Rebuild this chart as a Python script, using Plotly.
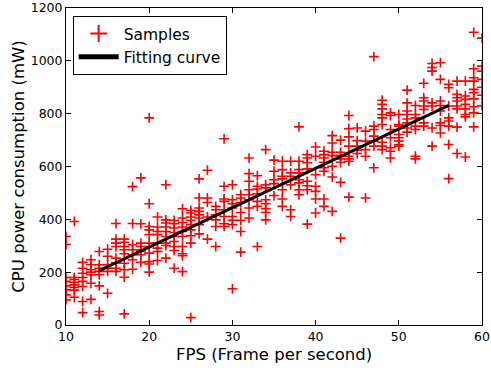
import plotly.graph_objects as go

# FPS columns and the power samples (mW) read at each FPS value
column_fps = list(range(10, 61))
column_power = [
    [335, 305, 180, 165, 148, 133, 114, 95],          # 10
    [392, 180, 172, 162, 152, 142, 132, 105],         # 11
    [237, 215, 196, 180, 165, 146, 89, 47],           # 12
    [247, 228, 209, 200, 190, 158, 97],               # 13
    [278, 228, 215, 203, 190, 148, 51, 38],           # 14
    [287, 260, 228, 215, 203, 120],                   # 15
    [384, 325, 310, 297, 253, 235, 215, 203],         # 16
    [325, 313, 297, 285, 270, 234, 209, 181, 42],     # 17
    [524, 384, 304, 285, 266, 247, 211],              # 18
    [557, 383, 310, 297, 285, 278, 266, 237],         # 19
    [784, 459, 373, 360, 342, 310, 297, 272, 240, 231, 200],  # 20
    [409, 371, 354, 342, 310, 291, 278, 244],         # 21
    [531, 398, 386, 371, 354, 335, 310, 301, 253],    # 22
    [396, 383, 367, 350, 335, 316, 297, 282, 215],    # 23
    [440, 405, 388, 371, 354, 335, 297, 270, 262, 202],  # 24
    [434, 424, 409, 396, 380, 360, 338, 310, 28],     # 25
    [553, 481, 443, 430, 417, 405, 380, 345],         # 26
    [586, 481, 464, 409, 325],                        # 27
    [449, 436, 417, 398, 373, 297],                   # 28
    [705, 525, 477, 468, 436, 411, 383, 373],         # 29
    [531, 474, 459, 443, 411, 396, 380, 137],         # 30
    [493, 481, 464, 426, 396, 354, 276],              # 31
    [632, 573, 544, 512, 493, 474, 443, 405],         # 32
    [565, 525, 515, 497, 468, 449, 297],              # 33
    [664, 531, 519, 474, 459, 440, 426, 398],         # 34
    [624, 582, 550, 535, 490],                        # 35
    [620, 588, 563, 553, 512, 477, 449],              # 36
    [620, 576, 563, 531, 436, 411],                   # 37
    [750, 620, 588, 576, 550, 538, 512, 493],         # 38
    [645, 632, 614, 591, 544, 527, 512, 382],         # 39
    [674, 639, 569, 525, 506, 477, 424],              # 40
    [658, 645, 632, 616, 595, 582, 477, 449],         # 41
    [717, 689, 654, 641, 601, 560, 430],              # 42
    [700, 654, 641, 629, 616, 540, 329],              # 43
    [793, 743, 712, 677, 639, 629, 620, 484],         # 44
    [746, 698, 677, 662, 649],                        # 45
    [734, 696, 664, 639, 481],                        # 46
    [1016, 753, 740, 715, 696, 677, 595],             # 47
    [851, 835, 818, 797, 784, 759, 692, 677, 664],    # 48
    [803, 793, 740, 709, 671, 658, 632],              # 49
    [797, 759, 753, 721, 709, 696, 683, 677],         # 50
    [889, 841, 810, 797, 780, 765, 746, 730],         # 51
    [831, 797, 784, 753, 740, 639, 629],              # 52
    [915, 860, 848, 829, 816, 765, 753],              # 53
    [990, 975, 961, 841, 829, 746, 677],              # 54
    [993, 930, 848, 831, 810, 765, 755, 727],         # 55
    [911, 898, 829, 784, 772, 753, 683, 554],         # 56
    [923, 873, 860, 848, 829, 818, 749, 649],         # 57
    [923, 867, 854, 835, 818, 797, 788, 636],         # 58
    [1108, 970, 936, 923, 892, 879, 856, 826, 803, 750],  # 59
    [1086, 980, 961, 930, 900, 870, 830],             # 60
]

# Fitting curve (linear)
fit_range = [14, 56]
fit_slope = 14.88
fit_intercept = -2.3

x_ticks = [10, 20, 30, 40, 50, 60]
y_ticks = [0, 200, 400, 600, 800, 1000, 1200]
x_title = "FPS (Frame per second)"
y_title = "CPU power consumption (mW)"

sample_fps = []
sample_power = []
for f, vals in zip(column_fps, column_power):
    for v in vals:
        sample_fps.append(f)
        sample_power.append(v)

fit_x = fit_range
fit_y = [fit_slope * x + fit_intercept for x in fit_x]

FONT = "DejaVu Sans"

fig = go.Figure()
fig.add_trace(go.Scatter(
    x=sample_fps, y=sample_power, mode="markers", name="Samples",
    marker=dict(symbol="cross-thin", size=7, color="red",
                line=dict(color="red", width=1.6)),
))
fig.add_trace(go.Scatter(
    x=fit_x, y=fit_y, mode="lines", name="Fitting curve",
    line=dict(color="black", width=3),
))

axis_common = dict(
    showline=True, linecolor="black", linewidth=1, mirror="ticks",
    ticks="inside", ticklen=5, tickcolor="black", tickwidth=1,
    showgrid=False, zeroline=False, automargin=False,
    tickfont=dict(family=FONT, size=12.5, color="black"),
)

fig.update_layout(
    width=491, height=368,
    margin=dict(l=66, r=9, t=8, b=43),
    paper_bgcolor="white", plot_bgcolor="white",
    font=dict(family=FONT, color="black"),
    xaxis=dict(range=[10, 60], tickvals=x_ticks, **axis_common),
    yaxis=dict(range=[0, 1200], tickvals=y_ticks, **axis_common),
    legend=dict(x=0.016, y=0.975, xanchor="left", yanchor="top",
                bgcolor="white", bordercolor="black", borderwidth=1,
                font=dict(family=FONT, size=15.5),
                itemwidth=40, itemsizing="constant", tracegroupgap=0),
    showlegend=True,
    annotations=[
        dict(text=x_title, xref="paper", yref="paper", x=0.5, y=-0.094,
             xanchor="center", yanchor="middle", showarrow=False,
             font=dict(family=FONT, size=16.5, color="black")),
        dict(text=y_title, xref="paper", yref="paper", x=-0.115, y=0.5,
             xanchor="center", yanchor="middle", showarrow=False,
             textangle=-90,
             font=dict(family=FONT, size=16.5, color="black")),
    ],
)

fig.write_html("out.html", config={"displayModeBar": False},
               post_script="document.body.style.margin='0';")
